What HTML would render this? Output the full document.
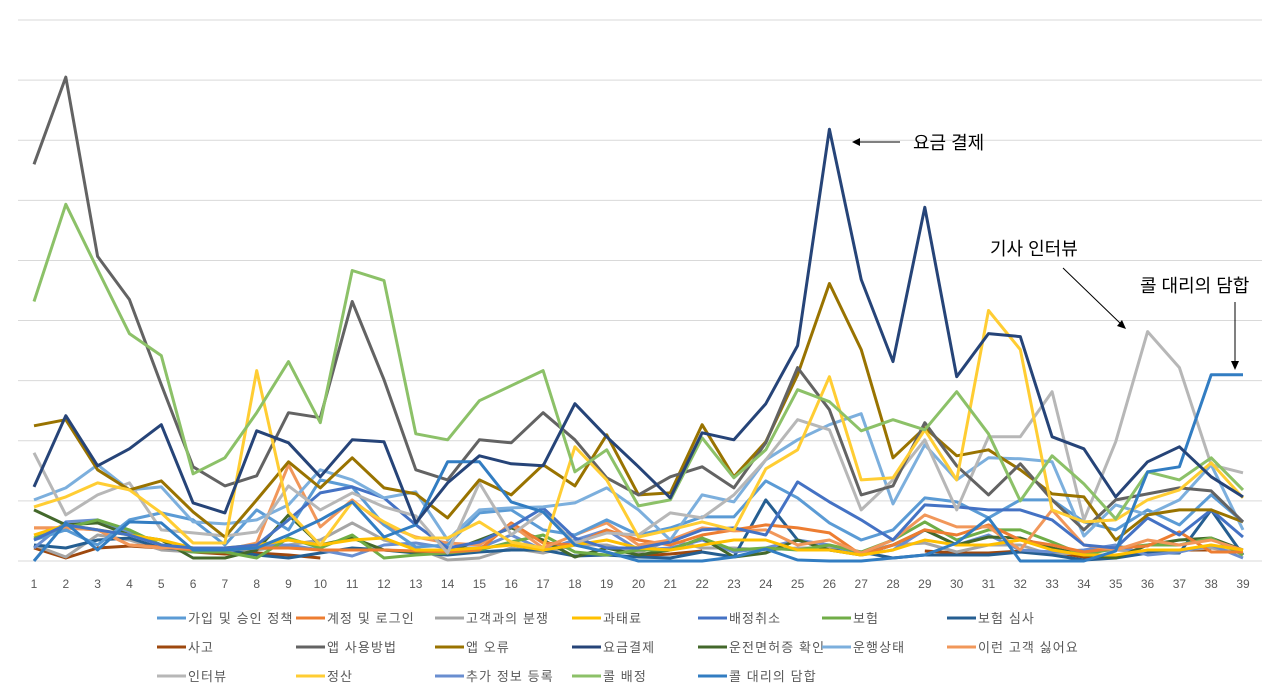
<!DOCTYPE html>
<html><head><meta charset="utf-8">
<style>
html,body{margin:0;padding:0;background:#fff;}
svg{display:block;font-family:"Liberation Sans","Noto Sans CJK KR",sans-serif;}
</style></head>
<body>
<svg id="chart" width="1280" height="698" viewBox="0 0 1280 698">
<g id="grid"></g>
<g id="series"></g>
<g id="xaxis"></g>
<g id="legend"></g>
<g font-size="18" fill="#000">
  <text x="913" y="149">요금 결제</text>
  <line x1="900" y1="142" x2="858" y2="142" stroke="#000" stroke-width="1"/>
  <polygon points="852,142 860,138 860,146" fill="#000"/>
  <text x="990" y="255">기사 인터뷰</text>
  <line x1="1063" y1="268" x2="1121" y2="324" stroke="#000" stroke-width="1"/>
  <polygon points="1126,329 1117,326 1122,320" fill="#000"/>
  <text x="1140" y="292">콜 대리의 담합</text>
  <line x1="1235" y1="302" x2="1235" y2="363" stroke="#000" stroke-width="1"/>
  <polygon points="1235,370 1231,361 1239,361" fill="#000"/>
</g>
</svg>
<script>
const categories = Array.from({length:39},(_,i)=>String(i+1));
const names = ["가입 및 승인 정책","계정 및 로그인","고객과의 분쟁","과태료","배정취소","보험","보험 심사","사고","앱 사용방법","앱 오류","요금결제","운전면허증 확인","운행상태","이런 고객 싫어요","인터뷰","정산","추가 정보 등록","콜 배정","콜 대리의 담합"];
const colors = ["#5b9bd5","#ed7d31","#a5a5a5","#ffc000","#4472c4","#70ad47","#255e91","#9e480e","#636363","#997300","#264478","#43682b","#7cafdd","#f1975a","#b7b7b7","#ffcd33","#698ed0","#8cc168","#327dc2"];
const sJoin = [21,31,16,41,48,41,16,51,31,81,74,36,14,16,48,51,31,26,41,26,33,44,44,80,63,38,21,31,63,59,43,61,61,39,31,51,36,66,39];
const sLogin = [33,33,31,16,14,11,11,13,13,11,11,11,10,9,11,38,18,16,31,21,16,26,31,36,33,28,6,16,31,26,36,21,16,9,13,15,29,9,9];
const sDispute = [16,4,26,21,11,9,9,11,16,21,38,21,13,1,3,13,8,16,16,8,21,13,13,11,13,13,9,16,18,9,16,16,6,9,11,9,11,13,8];
const sFine = [26,36,31,26,21,13,13,16,21,16,21,23,11,11,13,16,11,16,21,13,11,16,21,21,11,11,6,11,21,16,16,21,11,6,6,11,11,16,11];
const sCancel = [21,36,31,26,16,13,13,16,41,68,74,63,36,13,19,34,53,23,13,13,19,31,33,26,79,59,41,21,56,54,51,51,41,16,13,43,26,51,24];
const sInsure = [23,33,41,31,16,9,9,3,23,13,26,3,6,8,11,19,26,9,6,11,11,23,11,13,11,16,9,21,39,21,31,31,19,6,13,16,16,23,6];
const sInsReview = [16,13,21,23,13,11,11,6,3,8,13,11,8,6,9,11,11,5,6,4,3,9,4,61,21,11,9,3,6,6,6,9,6,1,3,8,8,51,6];
const sAccident = [13,3,13,15,13,9,7,8,6,3,null,null,null,null,null,null,null,null,null,5,7,10,null,null,null,null,null,null,10,8,8,10,9,4,5,8,11,11,null];
const sAppUse = [396,483,304,261,176,94,75,85,148,143,259,181,91,81,121,118,148,121,83,66,84,94,73,118,193,151,66,75,138,95,66,97,61,31,61,67,73,70,39];
const sAppErr = [135,141,91,71,80,49,24,61,99,73,103,73,67,43,81,66,96,75,126,66,68,136,84,119,186,277,211,103,133,105,111,91,67,64,21,46,51,51,39];
const sFare = [74,145,95,112,136,58,48,130,118,84,121,119,38,78,105,97,95,157,124,94,63,128,121,157,215,431,281,199,353,184,227,224,124,112,64,99,114,84,64];
const sLicense = [51,36,38,26,21,3,3,11,46,16,23,11,9,9,21,33,21,4,13,6,11,23,4,8,21,11,6,16,31,16,24,23,13,6,3,16,21,23,11];
const sTrip = [61,73,96,71,74,39,37,41,56,91,81,63,69,21,51,53,54,58,73,51,21,66,59,101,121,136,147,57,116,81,103,102,99,25,56,46,61,96,31];
const sBadCust = [33,33,31,16,13,13,11,18,96,34,61,36,24,18,16,36,13,26,38,16,21,33,30,31,16,21,8,21,46,34,34,11,51,16,11,21,16,21,11];
const sInterview = [108,46,66,78,31,28,25,29,75,51,68,54,45,8,78,26,49,18,28,26,48,43,66,101,141,131,51,81,121,51,124,124,169,41,119,229,193,96,88];
const sSettle = [54,64,78,71,48,18,18,190,49,16,59,39,23,23,39,19,13,114,81,24,31,39,31,92,111,184,81,83,131,81,250,211,51,39,41,61,71,98,63];
const sExtra = [13,39,41,29,16,9,9,16,16,11,5,16,18,13,13,26,11,21,31,11,13,21,9,13,21,16,6,11,31,16,26,11,9,11,16,6,9,16,3];
const sCallAssign = [259,356,291,227,205,87,103,148,199,138,290,280,127,121,160,175,190,89,111,55,61,123,83,111,171,159,130,141,131,169,127,60,105,77,42,89,81,103,71];
const sCollusion = [0,38,11,39,38,11,11,13,26,41,59,24,36,99,99,59,49,16,9,0,0,0,4,12,1,0,0,3,6,18,43,0,0,0,10,89,94,186,186];
const seriesData = [sJoin,sLogin,sDispute,sFine,sCancel,sInsure,sInsReview,sAccident,sAppUse,sAppErr,sFare,sLicense,sTrip,sBadCust,sInterview,sSettle,sExtra,sCallAssign,sCollusion];
const yTicks = [0,60,120,180,240,300,360,420,480,540];
const drawOrder = [7,2,6,16,11,5,1,13,3,0,4,12,14,9,8,15,17,18,10];

const NS="http://www.w3.org/2000/svg";
const X0=34, X1=1243, Y0=561, YMAX=540, YTOP=20;
const xs = i => X0 + i*(X1-X0)/(categories.length-1);
const ys = v => Y0 - v*(Y0-YTOP)/YMAX;

const grid=document.getElementById('grid');
yTicks.forEach(t=>{
  const l=document.createElementNS(NS,'line');
  l.setAttribute('x1',18);l.setAttribute('x2',1262);
  l.setAttribute('y1',ys(t));l.setAttribute('y2',ys(t));
  l.setAttribute('stroke','#d9d9d9');l.setAttribute('stroke-width','1');
  
  
  grid.appendChild(l);
});
const xa=document.getElementById('xaxis');
categories.forEach((c,i)=>{
  const t=document.createElementNS(NS,'text');
  t.setAttribute('x',xs(i));t.setAttribute('y',588);
  t.setAttribute('text-anchor','middle');t.setAttribute('font-size','12');t.setAttribute('fill','#595959');
  t.textContent=c;
  
  
  xa.appendChild(t);
});
const sg=document.getElementById('series');
drawOrder.forEach(k=>{
  const d=seriesData[k]; let path=''; let pen=false;
  d.forEach((v,i)=>{
    if(v===null){pen=false;return;}
    path+=(pen?'L':'M')+xs(i).toFixed(1)+','+ys(v).toFixed(1)+' '; pen=true;
  });
  const p=document.createElementNS(NS,'path');
  p.setAttribute('d',path);p.setAttribute('fill','none');
  p.setAttribute('stroke',colors[k]);p.setAttribute('stroke-width','3');
  p.setAttribute('stroke-linejoin','round');
  
  
  sg.appendChild(p);
});
const lg=document.getElementById('legend');
const colX=[157,296,435,572,698,822,947];
names.forEach((n,k)=>{
  const r=Math.floor(k/7), c=k%7;
  const y=618+r*29;
  const g=document.createElementNS(NS,'g');
  
  
  const l=document.createElementNS(NS,'line');
  l.setAttribute('x1',colX[c]);l.setAttribute('x2',colX[c]+29);
  l.setAttribute('y1',y);l.setAttribute('y2',y);
  l.setAttribute('stroke',colors[k]);l.setAttribute('stroke-width','3');
  
  
  const t=document.createElementNS(NS,'text');
  t.setAttribute('x',colX[c]+31);t.setAttribute('y',y+5);
  t.setAttribute('font-size','13');t.setAttribute('fill','#595959');
  t.setAttribute('letter-spacing','1.1');
  t.textContent=n;
  
  
  g.appendChild(l);g.appendChild(t);lg.appendChild(g);
});
</script>
</body></html>
